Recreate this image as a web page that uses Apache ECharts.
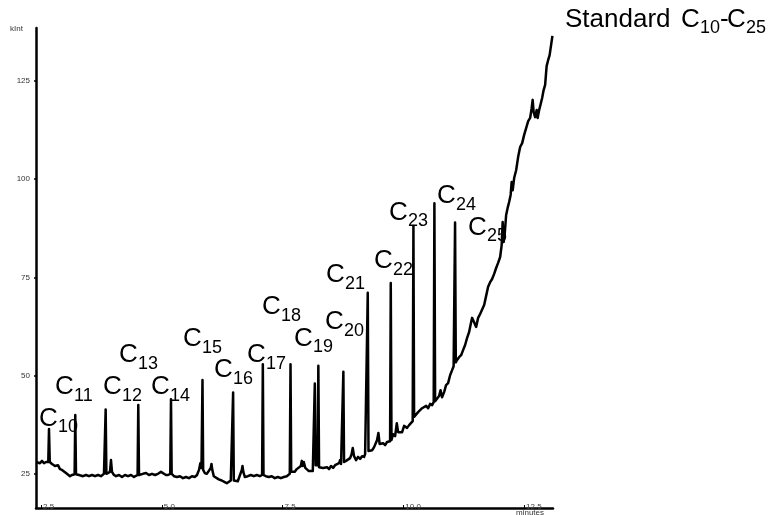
<!DOCTYPE html>
<html>
<head>
<meta charset="utf-8">
<script src="https://cdn.jsdelivr.net/npm/echarts@6/dist/echarts.min.js"></script>
<style>
html,body{margin:0;padding:0;background:#fff;}
#chart{width:770px;height:515px;}
</style>
</head>
<body>
<div id="chart"></div>
<script>
// Retention time (minutes)
const timeMin = [
2.400,2.438,2.479,2.521,2.562,2.604,2.635,2.651,2.666,2.682,2.707,2.728,2.748,2.790,2.831,2.852,2.893,2.935,2.976,3.018,3.059,3.100,3.142,3.183,
3.196,3.210,3.225,3.245,3.287,3.328,3.369,3.432,3.494,3.556,3.618,3.680,3.742,3.783,3.804,
3.825,3.839,3.854,3.887,3.928,3.949,3.970,4.011,4.053,4.115,4.177,4.239,4.301,4.363,4.425,4.466,4.500,
4.514,4.529,4.570,4.611,4.674,4.736,4.798,4.860,4.922,4.984,5.025,5.087,5.129,5.176,
5.191,5.205,5.253,5.315,5.377,5.439,5.501,5.563,5.625,5.687,5.729,5.771,5.798,5.822,
5.843,5.857,5.890,5.932,5.973,6.014,6.029,6.046,6.077,6.118,6.180,6.242,6.304,6.346,6.387,6.429,6.462,
6.477,6.491,6.532,6.574,6.615,6.657,6.671,6.688,6.719,6.781,6.843,6.905,6.967,7.029,7.077,
7.092,7.106,7.154,7.216,7.278,7.340,7.402,7.464,7.526,7.588,7.650,
7.665,7.679,7.712,7.753,7.795,7.836,7.878,7.899,7.919,7.940,7.971,8.002,8.044,8.085,8.126,8.153,
8.168,8.185,8.227,8.241,8.256,8.297,8.339,8.380,8.421,8.463,8.504,8.546,8.587,8.628,8.670,8.691,8.711,8.744,
8.759,8.773,8.815,8.856,8.898,8.929,8.953,8.980,9.022,9.063,9.105,9.146,9.188,9.209,9.250,
9.264,9.279,9.312,9.354,9.395,9.436,9.457,9.484,9.509,9.540,9.581,9.623,9.664,9.705,9.726,
9.740,9.755,9.788,9.830,9.865,9.892,9.933,9.975,10.016,10.047,10.078,10.120,10.161,10.194,
10.209,10.223,10.264,10.306,10.347,10.389,10.430,10.472,10.513,10.554,10.596,10.629,
10.643,10.658,10.699,10.740,10.771,10.802,10.844,10.885,10.927,10.968,11.010,11.041,11.057,
11.071,11.086,11.113,11.154,11.196,11.237,11.279,11.320,11.362,11.403,11.424,11.465,11.507,11.548,11.590,11.631,11.673,11.714,11.755,11.797,11.838,11.880,11.921,11.962,12.004,12.035,
12.056,12.076,12.097,12.128,12.159,12.190,12.221,12.242,12.263,12.294,12.335,12.377,12.418,12.460,12.501,12.542,12.584,12.625,12.656,12.677,12.697,12.728,12.760,12.780,12.811,12.842,12.873,12.904,12.935,12.966,12.997,13.028,13.059,13.086
];
// Intensity (kInt)
const intensity = [
28.0,28.5,27.7,28.3,27.7,28.0,27.7,28.0,36.4,28.0,28.3,27.5,28.0,27.0,26.7,27.2,26.2,26.0,25.5,25.2,24.7,24.4,24.7,25.0,
24.9,40.0,24.9,24.4,24.7,24.2,24.4,24.7,24.4,24.7,24.4,24.7,24.4,24.7,25.0,
25.0,41.4,25.0,25.2,25.5,28.5,25.5,24.7,24.4,24.7,24.2,24.7,24.4,24.7,24.2,24.4,24.7,
42.5,24.7,25.2,25.0,25.2,24.7,25.0,24.7,25.0,25.5,25.0,24.7,24.7,25.0,
44.0,25.0,24.4,24.2,24.4,23.9,24.2,23.9,24.4,24.2,24.7,26.0,27.7,26.5,
48.9,26.0,25.2,25.0,25.0,26.5,27.5,26.0,24.4,23.9,23.6,23.3,22.9,22.6,23.1,23.3,23.6,
45.7,23.3,22.9,23.1,23.6,26.0,27.0,25.5,24.2,24.4,24.7,24.4,24.7,24.4,24.7,
52.9,24.7,24.4,24.2,24.4,23.9,24.2,23.9,24.2,24.4,25.0,
52.9,25.5,26.0,25.5,26.2,25.7,27.0,28.3,27.0,28.0,26.5,26.2,25.7,26.0,25.7,26.2,
48.0,27.2,27.2,52.5,26.7,26.2,26.5,26.0,26.7,26.2,27.0,26.5,27.2,27.0,27.7,28.5,27.5,27.7,
51.0,28.0,28.3,28.0,29.0,30.0,31.6,29.5,28.5,29.3,28.8,29.5,29.3,30.0,30.5,
71.1,30.8,31.3,31.0,31.8,31.6,33.6,35.4,32.6,32.1,32.8,32.3,33.1,32.8,33.3,
73.6,33.6,35.1,34.6,37.9,35.6,36.1,35.6,37.2,37.7,36.7,37.4,37.2,38.4,
88.1,39.5,40.0,40.7,40.4,41.7,41.2,42.3,41.7,42.8,42.5,43.3,
93.9,43.5,43.8,44.8,46.3,44.5,45.8,47.6,48.1,50.1,51.4,52.4,52.7,
89.0,53.4,54.0,54.7,55.2,56.5,57.8,59.6,61.1,63.6,64.7,63.6,62.4,64.7,65.7,66.2,68.0,70.3,72.6,73.8,74.6,75.9,77.4,78.7,80.2,83.2,
89.1,84.0,85.8,90.9,92.7,94.2,96.0,99.3,97.2,100.3,102.3,105.7,108.2,109.2,111.3,113.0,114.8,115.6,118.1,120.2,117.1,115.8,117.6,115.6,117.6,119.1,120.7,122.7,124.0,128.8,130.3,131.6,134.2,136.5
];
const xTickValues = [2.5, 5.0, 7.5, 10.0, 12.5];
const yTickValues = [25, 50, 75, 100, 125];
const peakSubscripts = ['10','11','12','13','14','15','16','17','18','19','20','21','22','23','24','25'];
const titleText = ['Standard', 'C', '10', '-', 'C', '25'];

// layout of annotation texts (pixel positions: left of "C", centre of capitals)
const labelLayout = [
  [39,417.5],[55,386],[103,386],[119,354],[151,386],[183,338],[214,369],[247,354],
  [262,306],[294,337.5],[325,321],[326,274],[374,260],[389,211.5],[437,195],[468,226.5]
];

const FONT = '"Liberation Sans", Arial, sans-serif';
const seriesData = timeMin.map((t, i) => [t, intensity[i]]);

const graphics = [];
peakSubscripts.forEach((s, i) => {
  const [x, y] = labelLayout[i];
  graphics.push({type:'text', x:x, y:y+1, silent:true,
    style:{text:'C', fontSize:26, fontFamily:FONT, fill:'#000', align:'left', verticalAlign:'middle'}});
  graphics.push({type:'text', x:x+19, y:y+10, silent:true,
    style:{text:s, fontSize:18, fontFamily:FONT, fill:'#000', align:'left', verticalAlign:'middle'}});
});
// title
const titleX = [565, 681, 700, 720, 727, 746];
const titleSub = [false, false, true, false, false, true];
titleText.forEach((tx, i) => {
  graphics.push({type:'text', x:titleX[i], y: titleSub[i] ? 28.5 : 19.5, silent:true,
    style:{text:tx, fontSize: titleSub[i] ? 18 : 26, fontFamily:FONT, fill:'#000', align:'left', verticalAlign:'middle'}});
});
graphics.push({type:'text', x:10, y:29, style:{text:'kInt', fontSize:8, fontFamily:FONT, fill:'#333', align:'left', verticalAlign:'middle'}});
graphics.push({type:'text', x:516, y:513, style:{text:'minutes', fontSize:8, fontFamily:FONT, fill:'#333', align:'left', verticalAlign:'middle'}});

const chart = echarts.init(document.getElementById('chart'), null, {renderer:'canvas'});
chart.setOption({
  animation:false,
  backgroundColor:'#fff',
  grid:{left:36, right:217, top:28, bottom:7, containLabel:false},
  xAxis:{
    type:'value', min:2.397, max:13.098,
    axisLine:{show:true, onZero:false, lineStyle:{color:'#000', width:2.5}},
    axisTick:{show:true, length:3, inside:true, customValues:xTickValues, lineStyle:{color:'#000', width:1}},
    axisLabel:{show:true, customValues:xTickValues, align:'left', margin:-5, fontSize:8, color:'#444', fontFamily:FONT,
      padding:[0,0,0,2], formatter:(v)=>v.toFixed(1)},
    splitLine:{show:false}
  },
  yAxis:{
    type:'value', min:16.3, max:138.5,
    axisLine:{show:true, onZero:false, lineStyle:{color:'#000', width:2.5}},
    axisTick:{show:true, length:2, customValues:yTickValues, lineStyle:{color:'#000', width:1.5}},
    axisLabel:{show:true, customValues:yTickValues, margin:6, fontSize:8, color:'#333', fontFamily:FONT},
    splitLine:{show:false}
  },
  series:[{
    type:'line', data:seriesData, showSymbol:false, symbol:'none',
    lineStyle:{color:'#000', width:2.5, join:'round'}, clip:false
  }],
  graphic:graphics
});
</script>
</body>
</html>
